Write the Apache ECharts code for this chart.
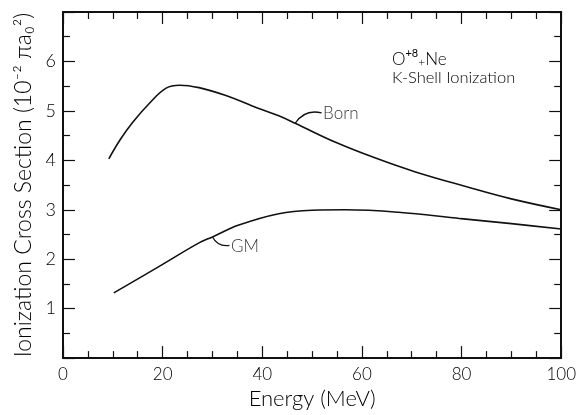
<!DOCTYPE html>
<html><head><meta charset="utf-8">
<script src="https://cdn.jsdelivr.net/npm/echarts@6/dist/echarts.min.js"></script>
<style>html,body{margin:0;padding:0;background:#fff}#c{width:579px;height:415px}</style>
</head><body><div id="c"></div>
<script>
// Energy (MeV) and cross section (10^-2 pi a0^2)
const bornX = [9.2, 11.5, 14.0, 17.4, 20.7, 23.4, 27.3, 32.7, 38.0, 43.3, 46.6, 54.6, 62.6, 70.6, 81.2, 90, 100];
const bornY = [4.03, 4.42, 4.77, 5.16, 5.46, 5.52, 5.47, 5.31, 5.10, 4.90, 4.75, 4.37, 4.05, 3.77, 3.46, 3.22, 3.0];
const gmX = [10.2, 19.4, 27.3, 30.0, 35.3, 43.3, 50.0, 56.6, 67.3, 79.9, 90, 100];
const gmY = [1.32, 1.86, 2.33, 2.45, 2.69, 2.92, 2.99, 3.00, 2.95, 2.82, 2.72, 2.61];
const xTicks = [0, 20, 40, 60, 80, 100];
const yTicks = [1, 2, 3, 4, 5, 6];
// label anchors (data coords)
const bornLeader = [[46.6, 4.75], [51.9, 4.96]];
const gmLeader = [[30.0, 2.45], [33.4, 2.28]];
const labelPts = [{name: 'Born', value: [52.2, 4.94]}, {name: 'GM', value: [33.7, 2.25]}];

const FONT = 'Lato';
const pair = (xs, ys) => xs.map((x, i) => [x, ys[i]]);
const axisLineStyle = {color: '#111', width: 2};
const chart = echarts.init(document.getElementById('c'), null, {renderer: 'canvas'});
const xBase = {
  type: 'value', min: 0, max: 100, interval: 20,
  axisLine: {show: true, onZero: false, lineStyle: axisLineStyle},
  axisTick: {show: true, inside: true, length: 12, lineStyle: {color: '#111', width: 1.2}},
  minorTick: {show: true, splitNumber: 4, length: 7, lineStyle: {color: '#111', width: 1.2}},
  splitLine: {show: false}, minorSplitLine: {show: false}
};
const yBase = {
  type: 'value', min: 0, max: 7, interval: 1,
  axisLine: {show: true, onZero: false, lineStyle: axisLineStyle},
  axisTick: {show: true, inside: true, length: 12, lineStyle: {color: '#111', width: 1.2}},
  minorTick: {show: true, splitNumber: 2, length: 7, lineStyle: {color: '#111', width: 1.2}},
  splitLine: {show: false}, minorSplitLine: {show: false}
};
chart.setOption({
  animation: false,
  backgroundColor: '#fff',
  grid: {left: 63, right: 15, top: 12, bottom: 51},
  xAxis: [
    Object.assign({}, xBase, {
      position: 'bottom',
      axisLabel: {show: true, margin: 8, fontSize: 17, fontFamily: FONT, fontWeight: 300, color: '#000',
        formatter: v => xTicks.includes(v) ? String(v) : ''},
      name: 'Energy (MeV)', nameLocation: 'middle', nameGap: 26,
      nameTextStyle: {fontSize: 22, fontFamily: FONT, fontWeight: 300, color: '#000'}
    }),
    Object.assign({}, xBase, {position: 'top', axisLabel: {show: false}})
  ],
  yAxis: [
    Object.assign({}, yBase, {
      position: 'left',
      axisLabel: {show: true, margin: 7, fontSize: 18, fontFamily: FONT, fontWeight: 300, color: '#000',
        formatter: v => yTicks.includes(v) ? String(v) : ''},
      name: 'Ionization Cross Section (10⁻² πa₀²)', nameLocation: 'middle', nameGap: 20,
      nameTextStyle: {fontSize: 23, fontFamily: FONT, fontWeight: 300, color: '#000', verticalAlign: 'bottom'}
    }),
    Object.assign({}, yBase, {position: 'right', axisLabel: {show: false}})
  ],
  graphic: [
    {type: 'text', left: 392, top: 48, style: {
      text: '{a|O}{s|+8}{b|+}{a|Ne}', fill: '#000',
      rich: {
        a: {fontSize: 17, fontFamily: FONT, fontWeight: 300, fill: '#000', lineHeight: 20, verticalAlign: 'bottom'},
        s: {fontSize: 11, fontFamily: FONT, fontWeight: 400, fill: '#000', lineHeight: 20, verticalAlign: 'top'},
        b: {fontSize: 12, fontFamily: FONT, fontWeight: 300, fill: '#000', lineHeight: 20, verticalAlign: 'bottom'}
      }}},
    {type: 'text', left: 392, top: 69, style: {
      text: 'K-Shell Ionization', fontSize: 16.5, fontFamily: FONT, fontWeight: 300, fill: '#000'}}
  ],
  series: [
    {type: 'line', name: 'Born', data: pair(bornX, bornY), smooth: 0.4, showSymbol: false,
      lineStyle: {color: '#111', width: 1.6}, xAxisIndex: 0, yAxisIndex: 0},
    {type: 'line', name: 'GM', data: pair(gmX, gmY), smooth: 0.4, showSymbol: false,
      lineStyle: {color: '#111', width: 1.6}, xAxisIndex: 0, yAxisIndex: 0},
    {type: 'lines', coordinateSystem: 'cartesian2d', xAxisIndex: 0, yAxisIndex: 0,
      data: [{coords: bornLeader, lineStyle: {curveness: 0.35}}, {coords: gmLeader, lineStyle: {curveness: -0.35}}],
      lineStyle: {color: '#111', width: 1.3, opacity: 1}, silent: true},
    {type: 'scatter', xAxisIndex: 0, yAxisIndex: 0, data: labelPts, symbolSize: 0, silent: true,
      label: {show: true, position: 'right', distance: 0, formatter: p => p.name,
        fontSize: 17, fontFamily: FONT, fontWeight: 300, color: '#000'}}
  ]
});
</script></body></html>
